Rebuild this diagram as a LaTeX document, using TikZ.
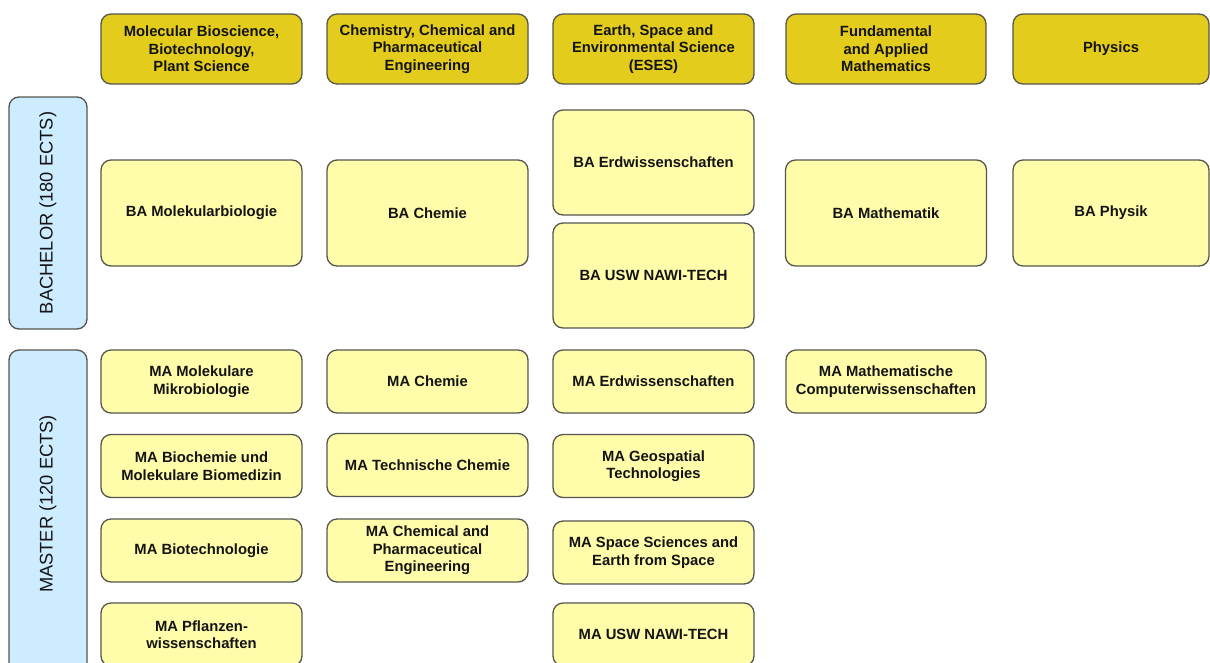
\documentclass[tikz,border=0pt]{standalone}
\usepackage{fontspec}
\setmainfont{Liberation Sans}
\definecolor{hdrfill}{RGB}{227,204,28}
\definecolor{progfill}{RGB}{255,252,170}
\definecolor{sidefill}{RGB}{206,236,255}
\definecolor{edge}{RGB}{85,85,80}
\definecolor{txt}{RGB}{20,20,20}
\tikzset{
  box/.style={draw=edge, line width=1.3pt, rounded corners=10pt, align=center,
    inner sep=2pt, outer sep=0pt, text=txt,
    font=\bfseries\fontsize{14.8}{17.5}\selectfont},
  hdr/.style={box, fill=hdrfill, minimum height=70pt},
  prog/.style={box, fill=progfill},
  side/.style={draw=edge, line width=1.3pt, rounded corners=10pt, fill=sidefill,
    minimum width=78pt, outer sep=0pt},
  sidelabel/.style={rotate=90, text=txt, font=\fontsize{18.3}{20}\selectfont}
}
\begin{document}
\begin{tikzpicture}[x=1pt,y=-1pt]
\useasboundingbox (0,0) rectangle (1210,662);
\clip (0,0) rectangle (1210,662);
\fill[white] (0,0) rectangle (1210,662);
% side boxes
\node[side, minimum height=232pt] (bach) at (48,213) {};
\node[sidelabel] (bachl) at (bach.center) {BACHELOR (180 ECTS)};
\node[side, minimum height=325pt] (mast) at (48,512.5) {};
\node[sidelabel] (mastl) at (48,504) {MASTER (120 ECTS)};
% headers
\node[hdr, minimum width=201pt] (h1) at (201.5,49) {Molecular Bioscience,\\Biotechnology,\\Plant Science};
\node[hdr, minimum width=201pt] (h2) at (427.5,49) {Chemistry, Chemical and\\Pharmaceutical\\Engineering};
\node[hdr, minimum width=201pt] (h3) at (653.5,49) {Earth, Space and\\Environmental Science\\(ESES)};
\node[hdr, minimum width=200pt] (h4) at (886,49) {Fundamental\\and Applied\\Mathematics};
\node[hdr, minimum width=196pt] (h5) at (1111,49) {Physics};
% bachelor programmes
\node[prog, minimum width=201pt, minimum height=106pt] (ba1) at (201.5,213) {BA Molekularbiologie};
\node[prog, minimum width=201pt, minimum height=106pt] (ba2) at (427.5,213) {BA Chemie};
\node[prog, minimum width=201pt, minimum height=105pt] (ba3a) at (653.5,162.5) {BA Erdwissenschaften};
\node[prog, minimum width=201pt, minimum height=105pt] (ba3b) at (653.5,275.5) {BA USW NAWI-TECH};
\node[prog, minimum width=201pt, minimum height=106pt] (ba4) at (886,213) {BA Mathematik};
\node[prog, minimum width=196pt, minimum height=106pt] (ba5) at (1111,213) {BA Physik};
% master programmes
\tikzset{ma/.style={prog, minimum width=201pt, minimum height=63pt}}
\node[ma] (m11) at (201.5,381.5) {MA Molekulare\\Mikrobiologie};
\node[ma] (m12) at (201.5,466) {MA Biochemie und\\Molekulare Biomedizin};
\node[ma] (m13) at (201.5,550.5) {MA Biotechnologie};
\node[ma] (m14) at (201.5,634.5) {MA Pflanzen-\\wissenschaften};
\node[ma] (m21) at (427.5,381.5) {MA Chemie};
\node[ma] (m22) at (427.5,465) {MA Technische Chemie};
\node[ma] (m23) at (427.5,550.5) {MA Chemical and\\Pharmaceutical\\Engineering};
\node[ma] (m31) at (653.5,381.5) {MA Erdwissenschaften};
\node[ma] (m32) at (653.5,466) {MA Geospatial\\Technologies};
\node[ma] (m33) at (653.5,552.5) {MA Space Sciences and\\Earth from Space};
\node[ma] (m34) at (653.5,634.5) {MA USW NAWI-TECH};
\node[ma, minimum width=200pt] (m41) at (886,381.5) {MA Mathematische\\Computerwissenschaften};
\end{tikzpicture}
\end{document}
